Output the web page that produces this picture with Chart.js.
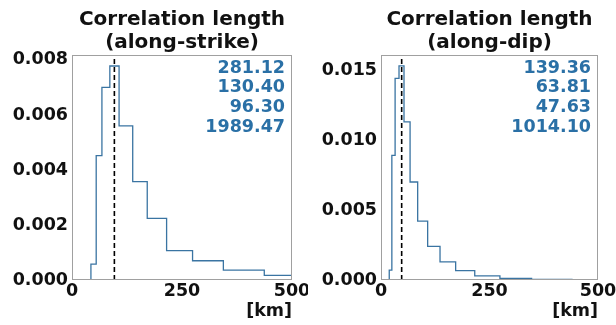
<!DOCTYPE html>
<html>
<head>
<meta charset="utf-8">
<script src="https://cdn.jsdelivr.net/npm/chart.js@4/dist/chart.umd.min.js"></script>
<style>
  html, body { margin: 0; padding: 0; background: #fff; overflow: hidden; }
  #wrap { position: relative; width: 616px; height: 325px; }
  canvas { position: absolute; top: 0; }
  #strike { left: 0; }
  #dip { left: 308px; }
</style>
</head>
<body>
<div id="wrap">
  <canvas id="strike" width="308" height="325"></canvas>
  <canvas id="dip" width="308" height="325"></canvas>
</div>
<script>
// histogram bins (bin edges in km, density per bin)
const strikeEdges = [43, 55, 68, 86, 107, 138, 171, 215, 274, 344, 437, 555];
const strikeDensity = [0.00058, 0.00452, 0.0070, 0.00778, 0.0056, 0.00358, 0.00224, 0.00107, 0.0007, 0.00036, 0.00017];
const strikeStats = ['281.12', '130.40', '96.30', '1989.47'];
const strikeMarker = 96.30;
const strikeTitle = ['Correlation length', '(along-strike)'];
const strikeYMax = 0.00818;
const strikeYStep = 0.002;

const dipEdges = [19, 25, 32.5, 41.5, 53, 67, 84.5, 107.5, 136, 172, 216, 274, 347, 440, 557];
const dipDensity = [0.0007, 0.0089, 0.0144, 0.0153, 0.0113, 0.0070, 0.0042, 0.0024, 0.0013, 0.00067, 0.00029, 0.00012, 0.00005, 0.00002];
const dipStats = ['139.36', '63.81', '47.63', '1014.10'];
const dipMarker = 47.63;
const dipTitle = ['Correlation length', '(along-dip)'];
const dipYMax = 0.01607;
const dipYStep = 0.005;

const xMin = 0, xMax = 500, xStep = 250;
const xLabel = '[km]';

const FONT = 'DejaVu Sans';
const lineColor = '#3a74a2';
const statColor = '#2a70a6';

// outline of a step histogram from edges + heights
function stepOutline(edges, heights) {
  let pts = [{x: edges[0], y: 0}];
  heights.forEach((h, i) => {
    pts.push({x: edges[i], y: h});
    pts.push({x: edges[i + 1], y: h});
  });
  pts.push({x: edges[edges.length - 1], y: 0});
  return pts;
}

// frame, title and stats text drawn around the plot area
const panelDecor = {
  id: 'panelDecor',
  afterDraw(chart, args, opts) {
    const {ctx, chartArea: a} = chart;
    ctx.save();
    ctx.strokeStyle = '#a0a0a0';
    ctx.lineWidth = 1;
    ctx.strokeRect(a.left + 0.5, a.top + 0.5, a.right - a.left - 1, a.bottom - a.top - 1);

    ctx.fillStyle = '#111';
    ctx.font = 'bold 20px "' + FONT + '"';
    ctx.textAlign = 'center';
    ctx.textBaseline = 'middle';
    const cx = (a.left + a.right) / 2;
    opts.title.forEach((t, i) => ctx.fillText(t, cx, 20 + i * 23));

    ctx.fillStyle = statColor;
    ctx.font = 'bold 17.5px "' + FONT + '"';
    ctx.textAlign = 'right';
    opts.stats.forEach((s, i) => ctx.fillText(s, a.right - 7, a.top + 13 + i * 19.7));
    ctx.restore();
  }
};

function makePanel(id, edges, density, marker, stats, title, yMax, yStep, yWidth, padRight) {
  return new Chart(document.getElementById(id), {
    type: 'line',
    data: {
      datasets: [
        {
          data: stepOutline(edges, density),
          borderColor: lineColor,
          borderWidth: 1.3,
          pointRadius: 0,
          fill: false,
          tension: 0
        },
        {
          data: [{x: marker, y: 0}, {x: marker, y: yMax}],
          borderColor: '#000',
          borderWidth: 1.6,
          borderDash: [5, 3],
          pointRadius: 0,
          fill: false
        }
      ]
    },
    options: {
      responsive: false,
      animation: false,
      devicePixelRatio: 1,
      layout: { padding: { top: 55, right: padRight, bottom: 0, left: 0 } },
      plugins: {
        legend: { display: false },
        tooltip: { enabled: false },
        title: { display: false },
        panelDecor: { title: title, stats: stats }
      },
      scales: {
        x: {
          type: 'linear',
          min: xMin,
          max: xMax,
          grid: { display: false, drawTicks: false },
          border: { display: false },
          ticks: {
            stepSize: xStep,
            padding: 1,
            maxRotation: 0,
            minRotation: 0,
            color: '#111',
            font: { family: FONT, weight: 'bold', size: 17.5 }
          },
          title: {
            display: true,
            text: xLabel,
            align: 'end',
            color: '#111',
            padding: { top: 0, bottom: 3 },
            font: { family: FONT, weight: 'bold', size: 17.5 }
          },
          afterFit(scale) {
            scale.height = 45;
            scale.paddingLeft = 0;
            scale.paddingRight = 0;
          }
        },
        y: {
          min: 0,
          max: yMax,
          grid: { display: false, drawTicks: false },
          border: { display: false },
          ticks: {
            stepSize: yStep,
            includeBounds: false,
            padding: 4,
            color: '#111',
            font: { family: FONT, weight: 'bold', size: 17.5 },
            callback: v => v.toFixed(3)
          },
          afterFit(scale) {
            scale.width = yWidth;
            scale.paddingTop = 0;
            scale.paddingBottom = 0;
          }
        }
      }
    },
    plugins: [panelDecor]
  });
}

makePanel('strike', strikeEdges, strikeDensity, strikeMarker, strikeStats, strikeTitle, strikeYMax, strikeYStep, 72, 16);
makePanel('dip', dipEdges, dipDensity, dipMarker, dipStats, dipTitle, dipYMax, dipYStep, 73, 18);
</script>
</body>
</html>
